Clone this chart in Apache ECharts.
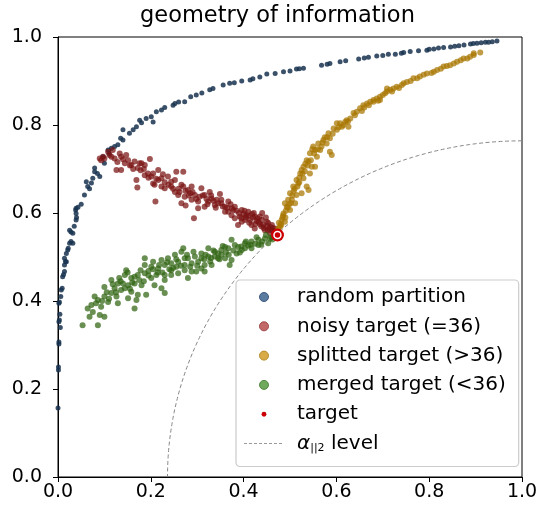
<!DOCTYPE html>
<html><head><meta charset="utf-8">
<script src="https://cdn.jsdelivr.net/npm/echarts@6/dist/echarts.min.js"></script>
<style>html,body{margin:0;padding:0;background:#fff}#c{width:548px;height:506px}</style>
</head><body><div id="c"></div>
<script>
const titleText = 'geometry of information';
const tickValues = [0, 0.2, 0.4, 0.6, 0.8, 1.0];
const tickLabels = ['0.0', '0.2', '0.4', '0.6', '0.8', '1.0'];
const seriesNames = ['random partition', 'noisy target (=36)', 'splitted target (>36)', 'merged target (<36)', 'target', 'alpha level'];

const randomPartition = [
[0.000,0.157],[0.001,0.243],[0.001,0.250],[0.002,0.302],[0.002,0.307],[0.002,0.353],[0.003,0.357],[0.002,0.395],[0.003,0.398],
[0.007,0.425],[0.009,0.429],[0.010,0.455],[0.014,0.467],[0.014,0.482],[0.018,0.489],[0.014,0.497],[0.018,0.508],[0.021,0.516],
[0.025,0.531],[0.032,0.531],[0.028,0.535],[0.032,0.554],[0.028,0.557],[0.025,0.561],[0.039,0.584],[0.039,0.599],[0.038,0.607],
[0.039,0.611],[0.043,0.613],[0.057,0.641],[0.064,0.660],[0.072,0.668],[0.061,0.671],[0.075,0.679],[0.090,0.683],[0.079,0.694],
[0.079,0.702],[0.100,0.713],[0.097,0.728],[0.108,0.743],[0.115,0.747],[0.122,0.751],[0.129,0.755],[0.140,0.766],[0.154,0.781],
[0.162,0.789],[0.140,0.789],[0.169,0.796],[0.176,0.811],[0.205,0.807],[0.190,0.815],[0.201,0.819],[0.212,0.830],[0.223,0.834],
[0.248,0.845],[0.252,0.849],[0.273,0.853],[0.286,0.864],[0.298,0.868],[0.327,0.880],[0.334,0.883],[0.356,0.891],[0.370,0.895],
[0.396,0.900],[0.414,0.902],[0.435,0.909],[0.450,0.916],[0.468,0.917],[0.486,0.921],[0.500,0.923],[0.514,0.927],[0.529,0.929],
[0.568,0.936],[0.586,0.940],[0.608,0.944],[0.648,0.950],[0.669,0.954],[0.687,0.957],[0.712,0.961],[0.727,0.961],[0.745,0.965],
[0.759,0.967],[0.777,0.969],[0.795,0.970],[0.810,0.973],[0.831,0.976],[0.846,0.977],[0.864,0.980],[0.889,0.984],[0.903,0.986],
[0.921,0.988],[0.936,0.989],[0.946,0.991],
[0.005,0.340],[0.004,0.370],[0.006,0.410],[0.012,0.460],[0.016,0.490],[0.022,0.520],[0.035,0.570],[0.040,0.590],[0.050,0.620],
[0.068,0.655],[0.085,0.690],[0.110,0.735],[0.135,0.770],[0.180,0.805],[0.230,0.840],[0.260,0.852],[0.310,0.873],[0.380,0.896],
[0.420,0.905],[0.520,0.928],[0.580,0.938],[0.620,0.946],[0.660,0.952],[0.700,0.958],[0.740,0.963],[0.800,0.972],[0.820,0.975],
[0.855,0.979],[0.875,0.982],[0.895,0.985],[0.912,0.987],[0.928,0.988]
];

const noisyTarget = [
[0.108,0.739],[0.118,0.743],[0.093,0.720],[0.122,0.724],[0.136,0.728],[0.151,0.720],[0.165,0.717],[0.180,0.713],[0.198,0.723],
[0.126,0.698],[0.136,0.698],[0.172,0.702],[0.194,0.690],[0.216,0.698],[0.223,0.679],[0.237,0.683],[0.255,0.694],[0.270,0.694],
[0.252,0.675],[0.266,0.664],[0.169,0.675],[0.171,0.658],[0.208,0.664],[0.223,0.660],[0.244,0.660],[0.280,0.652],[0.295,0.641],
[0.309,0.656],[0.316,0.641],[0.273,0.637],[0.288,0.630],[0.327,0.648],[0.331,0.633],[0.349,0.643],[0.338,0.618],[0.352,0.622],
[0.367,0.626],[0.381,0.614],[0.396,0.607],[0.410,0.603],[0.424,0.592],[0.439,0.584],[0.453,0.577],[0.468,0.565],[0.403,0.584],
[0.417,0.573],[0.388,0.573],[0.424,0.565],[0.446,0.561],[0.457,0.554],[0.374,0.595],[0.360,0.603],[0.316,0.614],[0.302,0.611],
[0.266,0.622],[0.275,0.617],[0.210,0.626],[0.293,0.588],[0.205,0.667],[0.187,0.686],[0.226,0.688],[0.244,0.671],[0.288,0.660],
[0.302,0.626],[0.342,0.630],[0.360,0.614],[0.378,0.607],[0.392,0.592],[0.406,0.595],[0.432,0.580],[0.442,0.573],[0.461,0.573],
[0.435,0.592],[0.414,0.584],[0.396,0.580],[0.381,0.588],[0.367,0.603],[0.324,0.626],[0.259,0.641],[0.252,0.648],[0.230,0.656],
[0.216,0.675],[0.201,0.683],[0.158,0.709],[0.144,0.713],[0.111,0.732],[0.100,0.724],[0.133,0.735],[0.147,0.732],[0.187,0.709],
[0.097,0.728],[0.090,0.724],[0.176,0.713],[0.455,0.565],[0.462,0.560],[0.466,0.556],[0.450,0.570],[0.443,0.566],[0.435,0.575],
[0.428,0.582],[0.420,0.590],[0.410,0.594],[0.400,0.598],[0.390,0.600],[0.375,0.610],[0.355,0.615],[0.345,0.622],[0.335,0.628],
[0.320,0.632],[0.305,0.637],[0.285,0.645],[0.275,0.650],[0.260,0.655],[0.450,0.580],[0.458,0.568],[0.430,0.588],[0.418,0.598],
[0.115,0.728],[0.128,0.716],[0.140,0.722],[0.155,0.708],[0.162,0.700],[0.178,0.697],[0.185,0.700],[0.195,0.680],[0.205,0.690],
[0.212,0.678],[0.230,0.670],[0.238,0.664],[0.248,0.655],[0.262,0.648],[0.270,0.660],[0.282,0.640],[0.290,0.648],[0.298,0.632],
[0.312,0.640],[0.322,0.620],[0.330,0.640],[0.340,0.612],[0.352,0.630],[0.365,0.612],[0.372,0.620],[0.385,0.605],[0.395,0.588],
[0.402,0.605],[0.412,0.578],[0.422,0.600],[0.438,0.570],[0.448,0.590],[0.452,0.560],[0.463,0.566],[0.468,0.558],[0.440,0.600],
[0.425,0.575],[0.405,0.590]
];

const splittedTarget = [
[0.478,0.569],[0.482,0.584],[0.486,0.599],[0.493,0.614],[0.496,0.630],[0.500,0.645],[0.507,0.660],[0.514,0.675],[0.522,0.690],
[0.529,0.705],[0.536,0.720],[0.543,0.736],[0.550,0.751],[0.561,0.758],[0.572,0.766],[0.583,0.781],[0.594,0.792],[0.608,0.804],
[0.622,0.811],[0.637,0.827],[0.651,0.838],[0.666,0.849],[0.680,0.857],[0.694,0.864],[0.709,0.876],[0.723,0.883],[0.745,0.895],
[0.766,0.906],[0.788,0.914],[0.810,0.921],[0.831,0.933],[0.853,0.940],[0.874,0.951],[0.896,0.959],[0.910,0.965],
[0.489,0.622],[0.504,0.630],[0.525,0.645],[0.536,0.660],[0.518,0.667],[0.529,0.679],[0.543,0.690],[0.525,0.698],[0.554,0.705],
[0.540,0.717],[0.558,0.728],[0.565,0.743],[0.586,0.739],[0.554,0.743],[0.579,0.758],[0.586,0.770],[0.601,0.789],[0.612,0.796],
[0.626,0.796],[0.630,0.815],[0.601,0.804],[0.644,0.830],[0.658,0.845],[0.673,0.853],[0.687,0.860],[0.694,0.857],[0.705,0.872],
[0.716,0.880],[0.730,0.887],[0.741,0.891],[0.752,0.898],[0.774,0.906],[0.795,0.917],[0.817,0.925],[0.838,0.934],[0.860,0.944],
[0.882,0.951],[0.896,0.963],[0.471,0.554],[0.475,0.565],[0.489,0.580],[0.500,0.607],[0.511,0.622],[0.514,0.641],[0.540,0.652],
[0.547,0.705],[0.590,0.732],[0.568,0.751],[0.619,0.807],[0.680,0.853],[0.709,0.883],[0.480,0.575],[0.484,0.590],[0.491,0.605],
[0.498,0.620],[0.508,0.650],[0.520,0.680],[0.533,0.712],[0.548,0.745],[0.575,0.772],[0.615,0.800],[0.660,0.840],[0.700,0.868],
[0.476,0.578],[0.481,0.572],[0.485,0.594],[0.490,0.590],[0.495,0.612],[0.502,0.622],[0.505,0.640],[0.510,0.655],[0.516,0.660],
[0.520,0.670],[0.527,0.690],[0.532,0.695],[0.538,0.708],[0.545,0.720],[0.552,0.735],[0.560,0.745],[0.570,0.760],[0.580,0.772],
[0.592,0.780],[0.605,0.795],[0.625,0.808],[0.640,0.822],[0.655,0.832],[0.670,0.845],[0.690,0.855],[0.720,0.876],[0.735,0.884],
[0.760,0.900],[0.780,0.910],[0.805,0.918],[0.825,0.928],[0.845,0.936],[0.868,0.947],[0.888,0.955]
];

const mergedTarget = [
[0.471,0.550],[0.446,0.542],[0.432,0.539],[0.417,0.535],[0.403,0.531],[0.388,0.523],[0.374,0.539],[0.367,0.520],[0.352,0.516],
[0.338,0.512],[0.324,0.520],[0.309,0.508],[0.295,0.501],[0.280,0.497],[0.270,0.520],[0.273,0.482],[0.259,0.489],[0.244,0.486],
[0.230,0.482],[0.216,0.474],[0.201,0.478],[0.187,0.497],[0.187,0.463],[0.172,0.459],[0.158,0.452],[0.144,0.459],[0.147,0.470],
[0.129,0.440],[0.115,0.448],[0.122,0.429],[0.144,0.429],[0.158,0.421],[0.172,0.414],[0.190,0.414],[0.100,0.432],[0.115,0.418],
[0.100,0.410],[0.086,0.402],[0.079,0.410],[0.072,0.391],[0.093,0.387],[0.108,0.398],[0.129,0.395],[0.126,0.410],[0.064,0.383],
[0.068,0.364],[0.090,0.368],[0.100,0.364],[0.086,0.345],[0.053,0.345],[0.165,0.383],[0.169,0.402],[0.230,0.418],[0.223,0.429],
[0.230,0.448],[0.208,0.436],[0.244,0.459],[0.259,0.463],[0.280,0.452],[0.298,0.467],[0.316,0.467],[0.316,0.482],[0.331,0.482],
[0.345,0.497],[0.360,0.497],[0.374,0.493],[0.370,0.482],[0.385,0.508],[0.396,0.516],[0.417,0.520],[0.432,0.527],[0.453,0.531],
[0.457,0.542],[0.266,0.512],[0.252,0.505],[0.237,0.497],[0.223,0.493],[0.205,0.489],[0.187,0.482],[0.273,0.497],[0.288,0.486],
[0.302,0.489],[0.309,0.497],[0.324,0.501],[0.338,0.501],[0.352,0.505],[0.360,0.523],[0.381,0.527],[0.403,0.520],[0.165,0.440],
[0.180,0.436],[0.201,0.452],[0.212,0.459],[0.151,0.436],[0.136,0.425],[0.151,0.406],[0.230,0.459],[0.244,0.470],[0.273,0.470],
[0.288,0.467],[0.309,0.474],[0.460,0.545],[0.440,0.535],[0.425,0.530],[0.410,0.526],[0.395,0.524],[0.362,0.510],[0.345,0.508],
[0.330,0.498],[0.315,0.495],[0.255,0.478],[0.240,0.472],[0.215,0.465],[0.195,0.458],[0.175,0.448],[0.160,0.442],[0.135,0.445],
[0.075,0.375],[0.082,0.395],[0.095,0.400],[0.105,0.420],[0.110,0.405],[0.118,0.438],[0.125,0.420],[0.132,0.452],[0.140,0.440],
[0.150,0.465],[0.155,0.428],[0.165,0.455],[0.178,0.470],[0.185,0.445],[0.195,0.468],[0.205,0.472],[0.218,0.482],[0.225,0.465],
[0.235,0.488],[0.248,0.475],[0.255,0.495],[0.265,0.480],[0.278,0.505],[0.285,0.478],[0.292,0.512],[0.300,0.480],[0.318,0.505],
[0.328,0.490],[0.335,0.515],[0.348,0.495],[0.355,0.525],[0.368,0.505],[0.378,0.515],[0.392,0.510],[0.405,0.535],[0.415,0.528],
[0.428,0.545],[0.438,0.528],[0.448,0.550],[0.462,0.540]
];

const targetPoint = [[0.473, 0.550]];
const alphaCenter = [1.0, 0.0];
const alphaRadius = 0.764;

const FONT = 'DejaVu Sans';
const chart = echarts.init(document.getElementById('c'), null, {renderer: 'canvas'});

function axis(pos) {
  return {
    type: 'value', min: 0, max: 1, interval: 0.2, position: pos,
    axisLine: {show: true, onZero: false, lineStyle: {color: '#000', width: 1}},
    axisTick: {show: true, inside: false, length: 5, lineStyle: {color: '#000', width: 1}},
    axisLabel: {
      color: '#000', fontFamily: FONT, fontSize: 19, margin: pos === 'left' ? 16 : 6,
      formatter: v => tickLabels[tickValues.findIndex(t => Math.abs(t - v) < 1e-9)]
    },
    splitLine: {show: false}
  };
}

function scatter(name, data, color, size, opacity) {
  return {
    name, type: 'scatter', data, symbol: 'circle', symbolSize: size,
    itemStyle: {color, opacity}, silent: true, animation: false
  };
}

const dashIcon = 'path://M0,0 M56,9 M8,4h3v1h-3z M13,4h3v1h-3z M18,4h3v1h-3z M23,4h3v1h-3z M28,4h3v1h-3z M33,4h3v1h-3z M38,4h3v1h-3z M43,4h3v1h-3z';
const dotIcon = 'path://M0,0 M10,10 M2.3,5a2.7,2.7 0 1,0 5.4,0a2.7,2.7 0 1,0 -5.4,0z';

chart.setOption({
  animation: false,
  backgroundColor: '#fff',
  title: {
    text: titleText, left: 140, top: 5, padding: 0,
    textStyle: {fontFamily: FONT, fontSize: 22.5, fontWeight: 'normal', color: '#000'}
  },
  grid: {left: 58, right: 26, top: 37, bottom: 29, show: true, borderColor: '#000', borderWidth: 1, backgroundColor: 'transparent'},
  xAxis: axis('bottom'),
  yAxis: axis('left'),
  legend: {
    orient: 'vertical', left: 236, top: 280,
    padding: [7, 13, 13, 0],
    itemWidth: 56, itemHeight: 9, itemGap: 9.3,
    backgroundColor: '#fff', borderColor: '#cccccc', borderWidth: 1.2, borderRadius: 4,
    selectedMode: false,
    textStyle: {
      fontFamily: FONT, fontSize: 20, color: '#000', lineHeight: 20,
      rich: {
        a: {fontFamily: FONT, fontSize: 20, fontStyle: 'italic', color: '#000', lineHeight: 20},
        s: {fontFamily: FONT, fontSize: 11, color: '#000', lineHeight: 20, padding: [9, 0, 0, 0]},
        t: {fontFamily: FONT, fontSize: 20, color: '#000', lineHeight: 20}
      }
    },
    formatter: n => n === seriesNames[5] ? '{a|α}{s|||2}{t| level}' : n,
    data: [
      {name: seriesNames[0], icon: 'circle', itemStyle: {color: '#5b7ba0', borderColor: '#3c5a7e', borderWidth: 1, opacity: 1}},
      {name: seriesNames[1], icon: 'circle', itemStyle: {color: '#c26868', borderColor: '#a04848', borderWidth: 1, opacity: 1}},
      {name: seriesNames[2], icon: 'circle', itemStyle: {color: '#d8aa48', borderColor: '#b88a28', borderWidth: 1, opacity: 1}},
      {name: seriesNames[3], icon: 'circle', itemStyle: {color: '#70a85e', borderColor: '#508840', borderWidth: 1, opacity: 1}},
      {name: seriesNames[4], icon: dotIcon, itemStyle: {color: '#cc0000', borderWidth: 0, opacity: 1}},
      {name: seriesNames[5], icon: dashIcon, itemStyle: {color: '#999999', borderWidth: 0, opacity: 1}}
    ]
  },
  series: [
    scatter(seriesNames[0], randomPartition, '#17324f', 5, 0.85),
    scatter(seriesNames[1], noisyTarget, '#7a1212', 6, 0.72),
    scatter(seriesNames[2], splittedTarget, '#a87600', 6, 0.72),
    scatter(seriesNames[3], mergedTarget, '#2f6410', 6, 0.72),
    {
      name: seriesNames[5], type: 'custom', silent: true, animation: false,
      itemStyle: {color: '#888'},
      data: [[alphaCenter[0], alphaCenter[1], alphaRadius]],
      renderItem: function (params, api) {
        const cx = api.value(0), cy = api.value(1), r = api.value(2);
        const pts = [];
        for (let i = 0; i <= 180; i++) {
          const t = Math.PI / 2 + i * Math.PI / 360;
          pts.push(api.coord([cx + r * Math.cos(t), cy + r * Math.sin(t)]));
        }
        return {type: 'polyline', shape: {points: pts}, style: {stroke: '#888', lineWidth: 1, lineDash: [4, 2.5], fill: null}};
      }
    },
    {
      name: 'target ring', type: 'scatter', data: targetPoint, symbol: 'circle', symbolSize: 13,
      itemStyle: {color: '#cc0000', opacity: 1}, silent: true, z: 5
    },
    {
      name: seriesNames[4], type: 'scatter', data: targetPoint, symbol: 'circle', symbolSize: 7,
      itemStyle: {color: '#cc0000', borderColor: '#fff', borderWidth: 1.5, opacity: 1}, silent: true, z: 6
    }
  ]
});
</script></body></html>
